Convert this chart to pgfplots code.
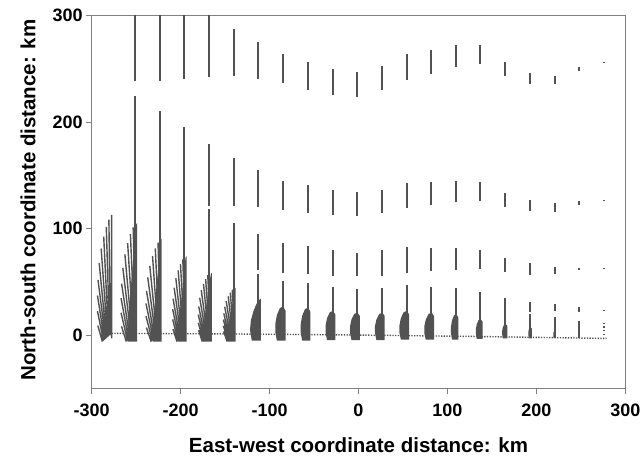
\documentclass[border=0pt]{standalone}
\usepackage{pgfplots}
\pgfplotsset{compat=1.18}
\usepackage{fontspec}
\setmainfont{Liberation Sans}
\definecolor{dg}{RGB}{82,82,82}
\definecolor{ax}{RGB}{128,128,128}
\begin{document}
\begin{tikzpicture}
\begin{axis}[name=ax, width=533.6pt, height=372.8pt, scale only axis,
  xmin=-300, xmax=300, ymin=-50, ymax=300,
  xtick={-300,-200,...,300}, ytick={0,100,200,300},
  axis line style={draw=ax, line width=1pt},
  tick style={draw=ax, line width=1pt},
  tick align=outside, major tick length=5.5pt,
  xtick pos=bottom, ytick pos=left,
  /pgf/number format/assume math mode=true,
  ticklabel style={font=\fontsize{18}{21}\selectfont\bfseries},
  xticklabel style={yshift=-6pt},
  label style={font=\fontsize{20.5}{24}\selectfont\bfseries},
  xlabel={East-west coordinate distance: km},
  ylabel={North-south coordinate distance: km},
  xlabel style={at={(axis description cs:0.5,-0.152)}, anchor=center},
  ylabel style={at={(axis description cs:-0.1194,0.5056)}, anchor=center},
  unbounded coords=jump]

% dotted baseline
\addplot[dg, line width=1.4pt, dash pattern=on 1.3pt off 1.4pt] coordinates {(-277.6,1.8) (-140,1.2) (-1.5,0.2) (137,-1.2) (279,-3)};

% dense cores of the fans
\addplot[fill=dg, draw=none] coordinates {(-259.5,-6) (-248.8,-6) (-248.8,105.5) (-250,104) (-252.5,80) (-255.5,50) (-258.5,20)} -- cycle;
\addplot[fill=dg, draw=none] coordinates {(-231.5,-6) (-221.4,-6) (-221.4,90.6) (-222.5,89) (-224.5,69) (-227.5,43) (-230.5,17)} -- cycle;
\addplot[fill=dg, draw=none] coordinates {(-203,-6) (-193.3,-6) (-193.3,74.3) (-194.5,73) (-196.5,56) (-199,35) (-202,14)} -- cycle;
\addplot[fill=dg, draw=none] coordinates {(-175,-6) (-165,-6) (-165,58.7) (-166,57.5) (-168.5,45) (-171,28) (-174,11)} -- cycle;
\addplot[fill=dg, draw=none] coordinates {(-147,-6) (-138.1,-6) (-138.1,44.6) (-139.5,43.5) (-141,34) (-143.5,21) (-146,8)} -- cycle;
\addplot[fill=dg, draw=none] coordinates {(-120,-5) (-109.7,-5) (-109.7,34.4) (-112,33) (-115,29) (-118,23) (-121,14) (-122,5)} -- cycle;
\addplot[fill=dg, draw=none] coordinates {(-91.8,-5) (-82,-5) (-82,22.9) (-84.5,26.9) (-88.4,25.6) (-91.8,18.8) (-93.5,10.8) (-93.5,2.7)} -- cycle;
\addplot[fill=dg, draw=none] coordinates {(-63.4,-5) (-54,-5) (-54,22) (-56.5,25.9) (-60.2,24.6) (-63.4,18.1) (-65,10.4) (-65,2.6)} -- cycle;
\addplot[fill=dg, draw=none] coordinates {(-35.4,-4.5) (-26,-4.5) (-26,19.4) (-28.5,22.8) (-32.2,21.7) (-35.4,16) (-37,9.1) (-37,2.3)} -- cycle;
\addplot[fill=dg, draw=none] coordinates {(-7.9,-4.5) (1.5,-4.5) (1.5,18) (-1,21.2) (-4.7,20.1) (-7.9,14.8) (-9.5,8.5) (-9.5,2.1)} -- cycle;
\addplot[fill=dg, draw=none] coordinates {(20.1,-4.5) (29.5,-4.5) (29.5,17.9) (27,21) (23.3,20) (20.1,14.7) (18.5,8.4) (18.5,2.1)} -- cycle;
\addplot[fill=dg, draw=none] coordinates {(47.6,-4) (57,-4) (57,19.4) (54.5,22.8) (50.8,21.7) (47.6,16) (46,9.1) (46,2.3)} -- cycle;
\addplot[fill=dg, draw=none] coordinates {(75.6,-4) (85,-4) (85,17.9) (82.5,21) (78.8,20) (75.6,14.7) (74,8.4) (74,2.1)} -- cycle;
\addplot[fill=dg, draw=none] coordinates {(105.1,-4) (112.3,-4) (112.3,16.7) (110,19.7) (107.3,18.7) (105.1,13.8) (104,7.9) (104,2)} -- cycle;
\addplot[fill=dg, draw=none] coordinates {(133,-3.5) (139.5,-3.5) (139.5,12.8) (137.5,15) (135,14.3) (133,10.5) (132,6) (132,1.5)} -- cycle;
\addplot[fill=dg, draw=none] coordinates {(162.2,-3) (167.5,-3) (167.5,8.8) (165.5,10.3) (163.6,9.8) (162.2,7.2) (161.5,4.1) (161.5,1)} -- cycle;
\addplot[fill=dg, draw=none] coordinates {(191.4,-3) (195,-3) (195,6.4) (193.5,7.5) (192.2,7.1) (191.4,5.3) (191,3) (191,0.8)} -- cycle;
\addplot[fill=dg, draw=none] coordinates {(219.3,-2.5) (222,-2.5) (222,3.4) (221,4) (219.9,3.8) (219.3,2.8) (219,1.6) (219,0.4)} -- cycle;
\addplot[fill=dg, draw=none] coordinates {(247,-2.5) (249.5,-2.5) (249.5,2) (247,2)} -- cycle;

% fan strokes
\addplot[dg, line width=1.4pt] coordinates {
(-288,-6)(-293.1,9)(0,nan)
(-286.8,-5.2)(-293.5,22.6)(0,nan)
(-285.7,-4.3)(-293.5,37.3)(0,nan)
(-284.5,-3.5)(-292.9,52)(0,nan)
(-283.4,-2.7)(-291.6,67.8)(0,nan)
(-282.2,-1.8)(-289.4,81.4)(0,nan)
(-281.1,-1)(-286.5,92.7)(0,nan)
(-279.9,-0.2)(-283.6,101.7)(0,nan)
(-278.8,0.7)(-280.7,108.5)(0,nan)
(-277.6,-3)(-277.6,113)(0,nan)
(-261.1,-6)(-266.5,8.4)(0,nan)
(-259.7,-5.2)(-267,21.1)(0,nan)
(-258.4,-4.3)(-267,34.8)(0,nan)
(-257,-3.5)(-266.4,48.5)(0,nan)
(-255.6,-2.7)(-265,63.3)(0,nan)
(-254.3,-1.8)(-262.7,76)(0,nan)
(-252.9,-1)(-259.6,86.5)(0,nan)
(-251.5,-0.2)(-256.5,95)(0,nan)
(-250.2,0.7)(-253.4,101.3)(0,nan)
(-233.1,-6)(-238.5,7.2)(0,nan)
(-231.8,-5.2)(-239,18.1)(0,nan)
(-230.5,-4.3)(-239,29.9)(0,nan)
(-229.2,-3.5)(-238.4,41.7)(0,nan)
(-227.9,-2.7)(-237,54.4)(0,nan)
(-226.6,-1.8)(-234.7,65.2)(0,nan)
(-225.3,-1)(-231.6,74.3)(0,nan)
(-224,-0.2)(-228.5,81.5)(0,nan)
(-222.7,0.7)(-225.4,87)(0,nan)
(-204.1,-6)(-208.6,5.9)(0,nan)
(-202.9,-5.2)(-209,14.9)(0,nan)
(-201.7,-4.3)(-209,24.5)(0,nan)
(-200.5,-3.5)(-208.5,34.2)(0,nan)
(-199.3,-2.7)(-207.3,44.6)(0,nan)
(-198.1,-1.8)(-205.4,53.5)(0,nan)
(-196.9,-1)(-202.8,60.9)(0,nan)
(-195.7,-0.2)(-200.2,66.9)(0,nan)
(-194.5,0.7)(-197.6,71.3)(0,nan)
(-175.6,-6)(-179.8,4.7)(0,nan)
(-174.4,-5.2)(-180.2,11.7)(0,nan)
(-173.2,-4.3)(-180.2,19.4)(0,nan)
(-172.1,-3.5)(-179.7,27)(0,nan)
(-170.9,-2.7)(-178.6,35.2)(0,nan)
(-169.7,-1.8)(-176.8,42.3)(0,nan)
(-168.5,-1)(-174.3,48.1)(0,nan)
(-167.4,-0.2)(-171.9,52.8)(0,nan)
(-166.2,0.7)(-169.5,56.4)(0,nan)
(-147.6,-6)(-151.7,3.6)(0,nan)
(-146.5,-5.2)(-152,8.9)(0,nan)
(-145.5,-4.3)(-152,14.7)(0,nan)
(-144.4,-3.5)(-151.5,20.5)(0,nan)
(-143.4,-2.7)(-150.5,26.8)(0,nan)
(-142.3,-1.8)(-148.8,32.1)(0,nan)
(-141.3,-1)(-146.5,36.6)(0,nan)
(-140.2,-0.2)(-144.2,40.1)(0,nan)
(-139.2,0.7)(-141.9,42.8)
};

% vertical segments
\addplot[dg, line width=2pt] coordinates {
(-251.5,238.8)(-251.5,302)(0,nan) (-251.5,0)(-251.5,224.3)(0,nan)
(-223.5,239)(-223.5,302)(0,nan) (-223.5,0)(-223.5,210.7)(0,nan)
(-196,240.6)(-196,302)(0,nan) (-196,0)(-196,195.4)(0,nan)
(-168,242)(-168,302)(0,nan) (-168,0)(-168,118.6)(0,nan) (-168,121)(-168,180)(0,nan)
(-140.5,243)(-140.5,287.4)(0,nan) (-140.5,0)(-140.5,105.5)(0,nan) (-140.5,121.7)(-140.5,166.3)(0,nan)
(-112.5,241)(-112.5,275.5)(0,nan) (-112.5,0)(-112.5,57.8)(0,nan) (-112.5,61.2)(-112.5,94.6)(0,nan) (-112.5,120.4)(-112.5,155.3)(0,nan)
(-85,236.6)(-85,264)(0,nan) (-85,0)(-85,50.9)(0,nan) (-85,58.1)(-85,86.2)(0,nan) (-85,118)(-85,145)(0,nan)
(-57,230.6)(-57,256.5)(0,nan) (-57,0)(-57,48.7)(0,nan) (-57,57.1)(-57,83.6)(0,nan) (-57,114.9)(-57,140.7)(0,nan)
(-29,225.9)(-29,249.6)(0,nan) (-29,0)(-29,45.6)(0,nan) (-29,55.5)(-29,79.9)(0,nan) (-29,112.7)(-29,136)(0,nan)
(-1.5,224)(-1.5,246.8)(0,nan) (-1.5,0)(-1.5,43.7)(0,nan) (-1.5,55.5)(-1.5,77.4)(0,nan) (-1.5,111.7)(-1.5,134.2)(0,nan)
(26.5,230)(26.5,252.8)(0,nan) (26.5,0)(26.5,44.3)(0,nan) (26.5,55.5)(26.5,79.6)(0,nan) (26.5,114.9)(26.5,136.7)(0,nan)
(54,239.7)(54,263.7)(0,nan) (54,0)(54,46.8)(0,nan) (54,58.1)(54,82.7)(0,nan) (54,119.6)(54,143)(0,nan)
(82,245.3)(82,267.4)(0,nan) (82,0)(82,45.6)(0,nan) (82,60.2)(82,82.1)(0,nan) (82,122)(82,143.9)(0,nan)
(109.5,251.9)(109.5,272.1)(0,nan) (109.5,0)(109.5,44)(0,nan) (109.5,61.2)(109.5,81.5)(0,nan) (109.5,124.8)(109.5,144.5)(0,nan)
(137,254.7)(137,272.1)(0,nan) (137,0)(137,40.9)(0,nan) (137,61.8)(137,79.6)(0,nan) (137,125.8)(137,143.6)(0,nan)
(165,243)(165,256.8)(0,nan) (165,0)(165,35.3)(0,nan) (165,59.3)(165,72.1)(0,nan) (165,120.5)(165,133.7)(0,nan)
(193,235.6)(193,245.9)(0,nan) (193,-2)(193,19.7)(0,nan) (193,21.8)(193,31.2)(0,nan) (193,56.5)(193,67.4)(0,nan) (193,116.4)(193,126.7)(0,nan)
(220.5,235.6)(220.5,243.4)(0,nan) (220.5,-2)(220.5,17.1)(0,nan) (220.5,22.8)(220.5,29)(0,nan) (220.5,57.1)(220.5,64.3)(0,nan) (220.5,115.9)(220.5,124.3)(0,nan)
(248,247.8)(248,251.9)(0,nan) (248,-2)(248,13.4)(0,nan) (248,21.8)(248,26.5)(0,nan) (248,61.2)(248,63.4)(0,nan) (248,122)(248,126.4)(0,nan)
(276,255.6)(276,256.8)(0,nan) (276,126.1)(276,127.3)(0,nan) (276,61.9)(276,63.1)(0,nan) (276,22.8)(276,24)(0,nan) (276,10.4)(276,11.6)(0,nan) (276,7.2)(276,8.4)(0,nan) (276,4.1)(276,5.3)(0,nan) (276,0.3)(276,1.5)
};
\end{axis}
\pgfresetboundingbox
\path[use as bounding box] ([shift={(-91.7pt,-72.5pt)}]ax.south west) rectangle ([shift={(15.7pt,15.7pt)}]ax.north east);
\end{tikzpicture}
\end{document}
